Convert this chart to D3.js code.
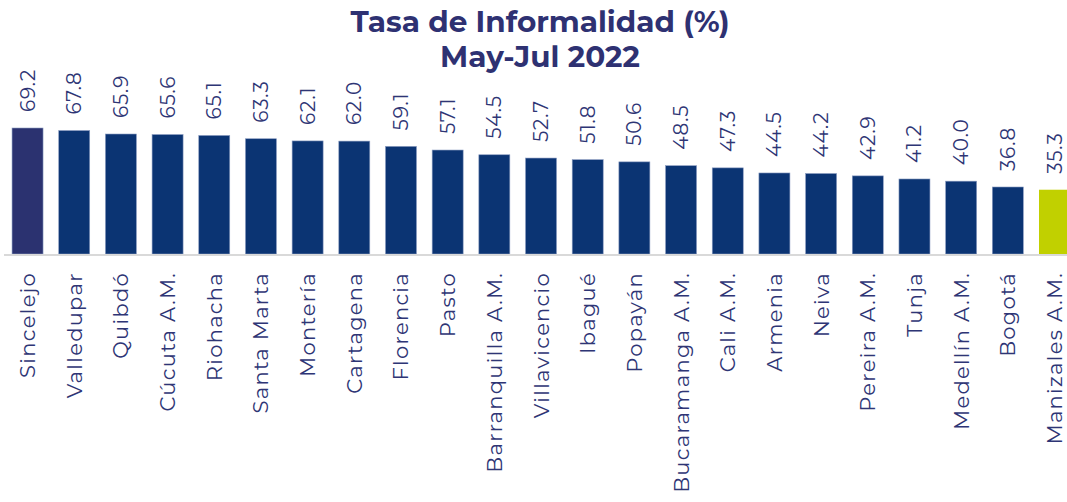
<!DOCTYPE html>
<meta charset="utf-8">
<style>
body { margin: 0; background: #fff; }
svg text { font-family: "Montserrat", "Open Sans", "Noto Sans", sans-serif; }
.title { font-weight: 700; fill: #2E3172; font-size: 29.5px; }
.val { fill: #2E3575; font-size: 20px; letter-spacing: 0.8px; }
.cat { fill: #2E3575; font-size: 21px; letter-spacing: 1.3px; }
</style>
<svg width="1067" height="502"></svg>
<script src="https://cdnjs.cloudflare.com/ajax/libs/d3/7.8.5/d3.min.js"></script>
<script>
// cities and informality rate, May-Jul 2022
var cities = ["Sincelejo", "Valledupar", "Quibdó", "Cúcuta A.M.", "Riohacha", "Santa Marta",
  "Montería", "Cartagena", "Florencia", "Pasto", "Barranquilla A.M.", "Villavicencio",
  "Ibagué", "Popayán", "Bucaramanga A.M.", "Cali A.M.", "Armenia", "Neiva",
  "Pereira A.M.", "Tunja", "Medellín A.M.", "Bogotá", "Manizales A.M."];
var values = [69.2, 67.8, 65.9, 65.6, 65.1, 63.3, 62.1, 62.0, 59.1, 57.1, 54.5, 52.7,
  51.8, 50.6, 48.5, 47.3, 44.5, 44.2, 42.9, 41.2, 40.0, 36.8, 35.3];
var titleLines = ["Tasa de Informalidad (%)", "May-Jul 2022"];

var svg = d3.select("svg"),
    baseY = 254;

var data = cities.map(function(c, i) { return {city: c, value: values[i]}; });

var x = d3.scaleBand()
    .domain(cities)
    .range([4.2, 4.2 + 23 * 46.68])
    .paddingInner(0.336)
    .paddingOuter(0.168);

var y = d3.scaleLinear()
    .domain([0, 69.2])
    .range([baseY, 128]);

function barColor(d, i) {
  if (i === 0) return "#2B3270";
  if (i === cities.length - 1) return "#C1D000";
  return "#0B3473";
}

// title
svg.selectAll(".title")
  .data(titleLines)
  .enter().append("text")
    .attr("class", "title")
    .attr("x", 540)
    .attr("y", function(d, i) { return 32 + i * 35; })
    .attr("text-anchor", "middle")
    .text(function(d) { return d; });

// bars
svg.append("g").selectAll("rect")
  .data(data)
  .enter().append("rect")
    .attr("x", function(d) { return x(d.city); })
    .attr("y", function(d) { return y(d.value); })
    .attr("width", x.bandwidth())
    .attr("height", function(d) { return baseY - y(d.value); })
    .attr("fill", barColor)
    .attr("stroke", function(d, i) { return i === cities.length - 1 ? "none" : "#8A9BC0"; })
    .attr("stroke-width", 0.6);

// axis line
svg.append("line")
    .attr("x1", 4).attr("x2", 1067)
    .attr("y1", baseY + 1).attr("y2", baseY + 1)
    .attr("stroke", "#D9D9D9")
    .attr("stroke-width", 2);

// value labels
svg.append("g").selectAll("text")
  .data(data)
  .enter().append("text")
    .attr("class", "val")
    .attr("transform", function(d) {
      return "translate(" + (x(d.city) + x.bandwidth() / 2 + 7) + "," + (y(d.value) - 16) + ") rotate(-90)";
    })
    .text(function(d) { return d.value.toFixed(1); });

// category labels
svg.append("g").selectAll("text")
  .data(data)
  .enter().append("text")
    .attr("class", "cat")
    .attr("text-anchor", "end")
    .attr("transform", function(d) {
      return "translate(" + (x(d.city) + x.bandwidth() / 2 + 7.5) + "," + (baseY + 18) + ") rotate(-90)";
    })
    .text(function(d) { return d.city; });
</script>
